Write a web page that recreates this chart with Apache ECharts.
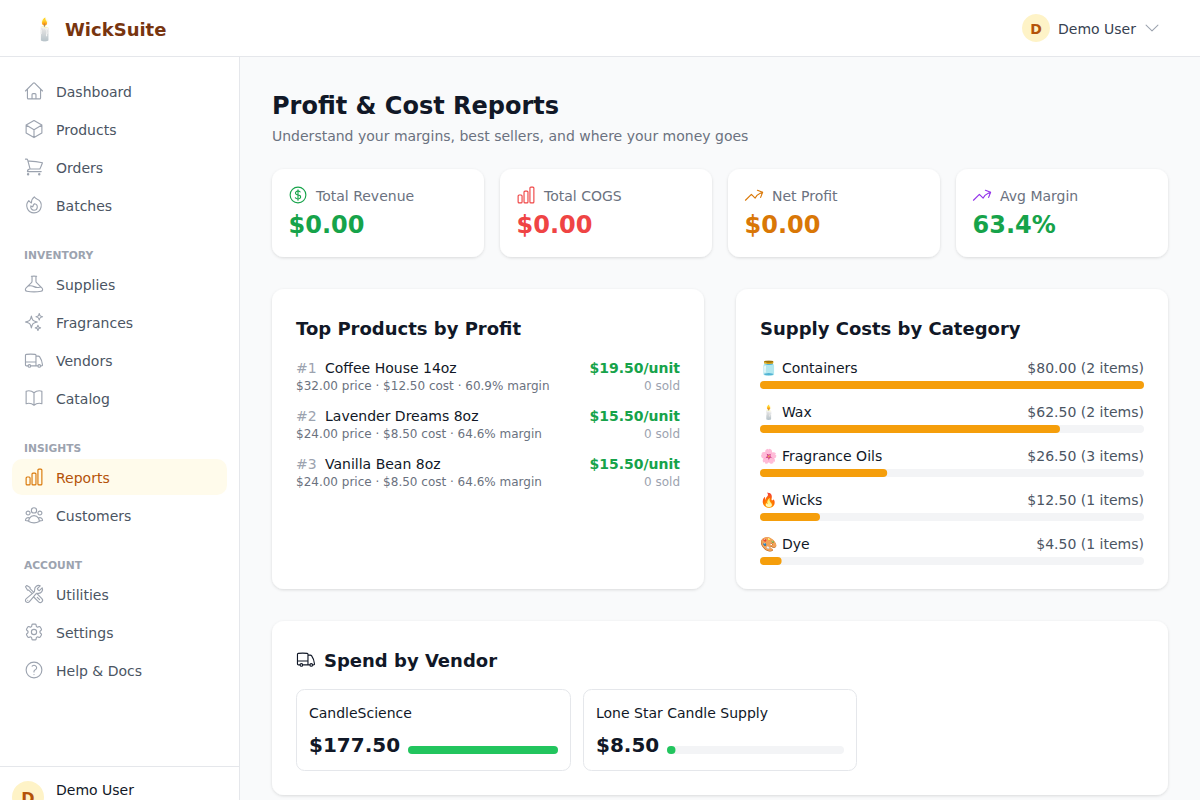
<!DOCTYPE html>
<html>
<head>
<meta charset="utf-8">
<title>WickSuite</title>
<script src="https://cdn.jsdelivr.net/npm/echarts@6/dist/echarts.min.js"></script>
<style>
    html, body { margin: 0; padding: 0; background: #f9fafb; }
    #chart { width: 1200px; height: 800px; }
</style>
</head>
<body>
<div id="chart"></div>
<script>
// supply costs panel
var costCategories = ['🫙 Containers', '🕯️ Wax', '🌸 Fragrance Oils', '🔥 Wicks', '🎨 Dye'];
var costValues = [80, 62.5, 26.5, 12.5, 4.5];
var costItems = [2, 2, 3, 1, 1];

// vendors panel
var vendorNames = ['CandleScience', 'Lone Star Candle Supply'];
var vendorSpend = [177.5, 8.5];

// top products panel
var productNames = ['Coffee House 14oz', 'Lavender Dreams 8oz', 'Vanilla Bean 8oz'];
var productPrice = [32, 24, 24];
var productCost = [12.5, 8.5, 8.5];
var productMargin = [60.9, 64.6, 64.6];
var productProfit = [19.5, 15.5, 15.5];
var productSold = [0, 0, 0];

// stat cards
var statLabels = ['Total Revenue', 'Total COGS', 'Net Profit', 'Avg Margin'];
var statValues = ['$0.00', '$0.00', '$0.00', '63.4%'];

// sidebar
var navMain = ['Dashboard', 'Products', 'Orders', 'Batches'];
var navInventory = ['Supplies', 'Fragrances', 'Vendors', 'Catalog'];
var navInsights = ['Reports', 'Customers'];
var navAccount = ['Utilities', 'Settings', 'Help & Docs'];

var FONT = '"DejaVu Sans", "Noto Color Emoji", sans-serif';

var ICONS = {
    home: 'm2.25 12 8.954-8.955c.44-.439 1.152-.439 1.591 0L21.75 12M4.5 9.75v10.125c0 .621.504 1.125 1.125 1.125H9.75v-4.875c0-.621.504-1.125 1.125-1.125h2.25c.621 0 1.125.504 1.125 1.125V21h4.125c.621 0 1.125-.504 1.125-1.125V9.75M8.25 21h8.25',
    cube: 'm21 7.5-9-5.25L3 7.5m18 0-9 5.25m9-5.25v9l-9 5.25M3 7.5l9 5.25M3 7.5v9l9 5.25m0-9v9',
    cart: 'M2.25 3h1.386c.51 0 .955.343 1.087.835l.383 1.437M7.5 14.25a3 3 0 0 0-3 3h15.75m-12.75-3h11.218c1.121-2.3 2.1-4.684 2.924-7.138a60.114 60.114 0 0 0-16.536-1.84M7.5 14.25 5.106 5.272M6 20.25a.75.75 0 1 1-1.5 0 .75.75 0 0 1 1.5 0Zm12.75 0a.75.75 0 1 1-1.5 0 .75.75 0 0 1 1.5 0Z',
    fire: 'M15.362 5.214A8.252 8.252 0 0 1 12 21 8.25 8.25 0 0 1 6.038 7.047 8.287 8.287 0 0 0 9 9.601a8.983 8.983 0 0 1 3.361-6.867 8.21 8.21 0 0 0 3 2.48Z M12 18a3.75 3.75 0 0 0 .495-7.468 5.99 5.99 0 0 0-1.925 3.547 5.975 5.975 0 0 1-2.133-1.001A3.75 3.75 0 0 0 12 18Z',
    beaker: 'M9.75 3.104v5.714a2.25 2.25 0 0 1-.659 1.591L5 14.5M9.75 3.104c-.251.023-.501.05-.75.082m.75-.082a24.301 24.301 0 0 1 4.5 0m0 0v5.714c0 .597.237 1.17.659 1.591L19.8 15.3M14.25 3.104c.251.023.501.05.75.082M19.8 15.3l-1.57.393A9.065 9.065 0 0 1 12 15a9.065 9.065 0 0 0-6.23-.693L5 14.5m14.8.8 1.402 1.402c1.232 1.232.65 3.318-1.067 3.611A48.309 48.309 0 0 1 12 21c-2.773 0-5.491-.235-8.135-.687-1.718-.293-2.3-2.379-1.067-3.61L5 14.5',
    sparkles: 'M9.813 15.904 9 18.75l-.813-2.846a4.5 4.5 0 0 0-3.09-3.09L2.25 12l2.846-.813a4.5 4.5 0 0 0 3.09-3.09L9 5.25l.813 2.846a4.5 4.5 0 0 0 3.09 3.09L15.75 12l-2.846.813a4.5 4.5 0 0 0-3.09 3.09ZM18.259 8.715 18 9.75l-.259-1.035a3.375 3.375 0 0 0-2.455-2.456L14.25 6l1.036-.259a3.375 3.375 0 0 0 2.455-2.456L18 2.25l.259 1.035a3.375 3.375 0 0 0 2.456 2.456L21.75 6l-1.035.259a3.375 3.375 0 0 0-2.456 2.456ZM16.894 20.567 16.5 21.75l-.394-1.183a2.25 2.25 0 0 0-1.423-1.423L13.5 18.75l1.183-.394a2.25 2.25 0 0 0 1.423-1.423l.394-1.183.394 1.183a2.25 2.25 0 0 0 1.423 1.423l1.183.394-1.183.394a2.25 2.25 0 0 0-1.423 1.423Z',
    truck: 'M8.25 18.75a1.5 1.5 0 0 1-3 0m3 0a1.5 1.5 0 0 0-3 0m3 0h6m-9 0H3.375a1.125 1.125 0 0 1-1.125-1.125V14.25m17.25 4.5a1.5 1.5 0 0 1-3 0m3 0a1.5 1.5 0 0 0-3 0m3 0h1.125c.621 0 1.129-.504 1.09-1.124a17.902 17.902 0 0 0-3.213-9.193 2.056 2.056 0 0 0-1.58-.86H14.25M16.5 18.75h-2.25m0-11.177v-.958c0-.568-.422-1.048-.987-1.106a48.554 48.554 0 0 0-10.026 0 1.106 1.106 0 0 0-.987 1.106v7.635m12-6.677v6.677m0 4.5v-4.5m0 0h-12',
    book: 'M12 6.042A8.967 8.967 0 0 0 6 3.75c-1.052 0-2.062.18-3 .512v14.25A8.987 8.987 0 0 1 6 18c2.305 0 4.408.867 6 2.292m0-14.25a8.966 8.966 0 0 1 6-2.292c1.052 0 2.062.18 3 .512v14.25A8.987 8.987 0 0 0 18 18a8.967 8.967 0 0 0-6 2.292m0-14.25v14.25',
    bars: 'M3 13.125C3 12.504 3.504 12 4.125 12h2.25c.621 0 1.125.504 1.125 1.125v6.75C7.5 20.496 6.996 21 6.375 21h-2.25A1.125 1.125 0 0 1 3 19.875v-6.75ZM9.75 8.625c0-.621.504-1.125 1.125-1.125h2.25c.621 0 1.125.504 1.125 1.125v11.25c0 .621-.504 1.125-1.125 1.125h-2.25a1.125 1.125 0 0 1-1.125-1.125V8.625ZM16.5 4.125c0-.621.504-1.125 1.125-1.125h2.25C20.496 3 21 3.504 21 4.125v15.75c0 .621-.504 1.125-1.125 1.125h-2.25a1.125 1.125 0 0 1-1.125-1.125V4.125Z',
    users: 'M18 18.72a9.094 9.094 0 0 0 3.741-.479 3 3 0 0 0-4.682-2.72m.94 3.198.001.031c0 .225-.012.447-.037.666A11.944 11.944 0 0 1 12 21c-2.17 0-4.207-.576-5.963-1.584A6.062 6.062 0 0 1 6 18.719m12 0a5.971 5.971 0 0 0-.941-3.197m0 0A5.995 5.995 0 0 0 12 12.75a5.995 5.995 0 0 0-5.058 2.772m0 0a3 3 0 0 0-4.681 2.72 8.986 8.986 0 0 0 3.74.477m.94-3.197a5.971 5.971 0 0 0-.94 3.197M15 6.75a3 3 0 1 1-6 0 3 3 0 0 1 6 0Zm6 3a2.25 2.25 0 1 1-4.5 0 2.25 2.25 0 0 1 4.5 0Zm-13.5 0a2.25 2.25 0 1 1-4.5 0 2.25 2.25 0 0 1 4.5 0Z',
    tools: 'M11.42 15.17 17.25 21A2.652 2.652 0 0 0 21 17.25l-5.877-5.877M11.42 15.17l2.496-3.03c.317-.384.74-.626 1.208-.766M11.42 15.17l-4.655 5.653a2.548 2.548 0 1 1-3.586-3.586l6.837-5.63m5.108-.233c.55-.164 1.163-.188 1.743-.14a4.5 4.5 0 0 0 4.486-6.336l-3.276 3.277a3.004 3.004 0 0 1-2.25-2.25l3.276-3.276a4.5 4.5 0 0 0-6.336 4.486c.091 1.076-.071 2.264-.904 2.95l-.102.085m-1.745 1.437L5.909 7.5H4.5L2.25 3.75l1.5-1.5L7.5 4.5v1.409l4.26 4.26m-1.745 1.437 1.745-1.437m6.615 8.206L15.75 15.75M4.867 19.125h.008v.008h-.008v-.008Z',
    cog: 'M9.594 3.94c.09-.542.56-.94 1.11-.94h2.593c.55 0 1.02.398 1.11.94l.213 1.281c.063.374.313.686.645.87.074.04.147.083.22.127.325.196.72.257 1.075.124l1.217-.456a1.125 1.125 0 0 1 1.37.49l1.296 2.247a1.125 1.125 0 0 1-.26 1.431l-1.003.827c-.293.241-.438.613-.43.992a7.723 7.723 0 0 1 0 .255c-.008.378.137.75.43.991l1.004.827c.424.35.534.955.26 1.43l-1.298 2.247a1.125 1.125 0 0 1-1.369.491l-1.217-.456c-.355-.133-.75-.072-1.076.124a6.47 6.47 0 0 1-.22.128c-.331.183-.581.495-.644.869l-.213 1.281c-.09.543-.56.94-1.11.94h-2.594c-.55 0-1.019-.398-1.11-.94l-.213-1.281c-.062-.374-.312-.686-.644-.87a6.52 6.52 0 0 1-.22-.127c-.325-.196-.72-.257-1.076-.124l-1.217.456a1.125 1.125 0 0 1-1.369-.49l-1.297-2.247a1.125 1.125 0 0 1 .26-1.431l1.004-.827c.292-.24.437-.613.43-.991a6.932 6.932 0 0 1 0-.255c.007-.38-.138-.751-.43-.992l-1.004-.827a1.125 1.125 0 0 1-.26-1.43l1.297-2.247a1.125 1.125 0 0 1 1.37-.491l1.216.456c.356.133.751.072 1.076-.124.072-.044.146-.086.22-.128.332-.183.582-.495.644-.869l.214-1.28Z M15 12a3 3 0 1 1-6 0 3 3 0 0 1 6 0Z',
    help: 'M9.879 7.519c1.171-1.025 3.071-1.025 4.242 0 1.172 1.025 1.172 2.687 0 3.712-.203.179-.43.326-.67.442-.745.361-1.45.999-1.45 1.827v.75M21 12a9 9 0 1 1-18 0 9 9 0 0 1 18 0Zm-9 5.25h.008v.008H12v-.008Z',
    dollar: 'M12 6v12m-3-2.818.879.659c1.171.879 3.07.879 4.242 0 1.172-.879 1.172-2.303 0-3.182C13.536 12.219 12.768 12 12 12c-.725 0-1.45-.22-2.003-.659-1.106-.879-1.106-2.303 0-3.182s2.9-.879 4.006 0l.415.33M21 12a9 9 0 1 1-18 0 9 9 0 0 1 18 0Z',
    trend: 'M2.25 18 9 11.25l4.306 4.306a11.95 11.95 0 0 1 5.814-5.518l2.74-1.22m0 0-5.94-2.281m5.94 2.28-2.28 5.941',
    chevron: 'm19.5 8.25-7.5 7.5-7.5-7.5'
};
Object.keys(ICONS).forEach(function (name) {
    echarts.graphic.registerShape('icon_' + name, echarts.graphic.extendPath(ICONS[name]));
});

var els = [];

function box(x, y, w, h, fill, r, extra) {
    var style = {fill: fill};
    if (extra) {
        for (var k in extra) style[k] = extra[k];
    }
    els.push({type: 'rect', shape: {x: x, y: y, width: w, height: h, r: r || 0}, style: style, silent: true});
}

function card(x, y, w, h) {
    box(x, y, w, h, '#fff', 12, {shadowBlur: 3, shadowOffsetY: 1, shadowColor: 'rgba(0,0,0,0.13)'});
}

// y is the middle of the line box, the +1 puts the glyphs where the page has them
function txt(x, y, text, size, color, bold, align) {
    els.push({
        type: 'text', x: x, y: y + 1, silent: true,
        style: {
            text: text, fill: color, align: align || 'left', verticalAlign: 'middle',
            font: (bold ? 'bold ' : '') + size + 'px ' + FONT
        }
    });
}

function icon(name, cx, cy, size, color) {
    var s = size / 24;
    els.push({
        type: 'icon_' + name, x: cx - size / 2, y: cy - size / 2, scaleX: s, scaleY: s, silent: true,
        style: {fill: 'none', stroke: color, lineWidth: 1.3, lineCap: 'round', lineJoin: 'round'}
    });
}

function circle(cx, cy, r, fill) {
    els.push({type: 'circle', shape: {cx: cx, cy: cy, r: r}, style: {fill: fill}, silent: true});
}

function money(v) {
    return '$' + v.toFixed(2);
}

// frame
box(0, 0, 240, 800, '#fff');
box(239, 57, 1, 743, '#e5e7eb');
box(0, 0, 1200, 56, '#fff');
box(0, 56, 1200, 1, '#e5e7eb');
box(0, 766, 239, 1, '#e5e7eb');

// header
txt(31, 28, '🕯️', 22, '#000');
txt(65, 28, 'WickSuite', 18, '#78350f', true);
circle(1036, 28, 14, '#fef3c7');
txt(1036, 28, 'D', 14, '#b45309', true, 'center');
txt(1058, 28, 'Demo User', 14, '#374151');
icon('chevron', 1152, 28, 19, '#9ca3af');

// sidebar
function navGroup(labels, icons, y) {
    labels.forEach(function (label, i) {
        var cy = y + i * 38;
        var active = label === 'Reports';
        if (active) box(12, cy - 18, 215, 36, '#fffbeb', 10);
        icon(icons[i], 34, cy, 21, active ? '#d97706' : '#9ca3af');
        txt(56, cy, label, 14, active ? '#b45309' : '#4b5563');
    });
}
navGroup(navMain, ['home', 'cube', 'cart', 'fire'], 91);
txt(24, 254, 'INVENTORY', 10.7, '#9ca3af', true);
navGroup(navInventory, ['beaker', 'sparkles', 'truck', 'book'], 284);
txt(24, 447, 'INSIGHTS', 10.7, '#9ca3af', true);
navGroup(navInsights, ['bars', 'users'], 477);
txt(24, 564, 'ACCOUNT', 10.7, '#9ca3af', true);
navGroup(navAccount, ['tools', 'cog', 'help'], 594);
circle(28, 797, 16, '#fef3c7');
txt(28, 797, 'D', 16, '#b45309', true, 'center');
txt(56, 789, 'Demo User', 14, '#111827');

// page heading
txt(272, 105, 'Profit & Cost Reports', 24, '#111827', true);
txt(272, 135, 'Understand your margins, best sellers, and where your money goes', 14, '#6b7280');

// stat cards
var statIcons = ['dollar', 'bars', 'trend', 'trend'];
var statIconColors = ['#16a34a', '#ef4444', '#d97706', '#9333ea'];
var statColors = ['#16a34a', '#ef4444', '#d97706', '#16a34a'];
statLabels.forEach(function (label, i) {
    var x = 272 + i * 228;
    card(x, 169, 212, 88);
    icon(statIcons[i], x + 26, 195, 21, statIconColors[i]);
    txt(x + 44, 195, label, 14, '#6b7280');
    txt(x + 16.5, 224, statValues[i], 24, statColors[i], true);
});

// top products
card(272, 289, 432, 300);
txt(296, 327, 'Top Products by Profit', 18, '#111827', true);
productNames.forEach(function (name, i) {
    var y = 367 + i * 48;
    txt(296, y, '#' + (i + 1), 14, '#9ca3af');
    txt(325, y, name, 14, '#111827');
    txt(296, y + 18, money(productPrice[i]) + ' price · ' + money(productCost[i]) + ' cost · ' + productMargin[i].toFixed(1) + '% margin', 12, '#6b7280');
    txt(680, y, money(productProfit[i]) + '/unit', 14, '#16a34a', true, 'right');
    txt(680, y + 18, productSold[i] + ' sold', 12, '#9ca3af', false, 'right');
});

// supply costs
card(736, 289, 432, 300);
txt(760, 327, 'Supply Costs by Category', 18, '#111827', true);
costCategories.forEach(function (name, i) {
    var y = 367 + i * 44;
    txt(760, y, name, 14, '#111827');
    txt(1144, y, money(costValues[i]) + ' (' + costItems[i] + ' items)', 14, '#4b5563', false, 'right');
});

// vendors
card(272, 621, 896, 174);
icon('truck', 306, 659, 21, '#111827');
txt(324, 659, 'Spend by Vendor', 18, '#111827', true);
var vendorCardX = [296, 583];
var vendorCardW = [275, 274];
vendorNames.forEach(function (name, i) {
    var x = vendorCardX[i];
    box(x + 0.5, 689.5, vendorCardW[i] - 1, 81, '#fff', 8, {stroke: '#e5e7eb', lineWidth: 1});
    txt(x + 13, 712, name, 14, '#111827');
    txt(x + 13, 744, money(vendorSpend[i]), 20, '#111827', true);
});

var TRACK = '#f3f4f6';

function progressSeries(data, color, axisIndex) {
    return {
        type: 'bar',
        xAxisIndex: axisIndex,
        yAxisIndex: axisIndex,
        data: data,
        barWidth: 8,
        silent: true,
        itemStyle: {color: color, borderRadius: 4},
        showBackground: true,
        backgroundStyle: {color: TRACK, borderRadius: 4}
    };
}

function hiddenX(max) {
    return {type: 'value', min: 0, max: max, show: false};
}

function hiddenY(cats, index) {
    return {type: 'category', data: cats, inverse: true, show: false, gridIndex: index};
}

var vendorMax = Math.max.apply(null, vendorSpend);
var xCost = hiddenX(Math.max.apply(null, costValues));
var xVendorA = hiddenX(vendorMax);
var xVendorB = hiddenX(vendorMax);
xVendorA.gridIndex = 1;
xVendorB.gridIndex = 2;

var myChart = echarts.init(document.getElementById('chart'), null, {renderer: 'svg'});

var option = {
    animation: false,
    backgroundColor: '#f9fafb',
    graphic: {elements: els},
    grid: [
        {left: 760, top: 363, width: 384, height: 220},
        {left: 408, top: 740, width: 150, height: 20},
        {left: 667, top: 740, width: 177, height: 20}
    ],
    xAxis: [xCost, xVendorA, xVendorB],
    yAxis: [
        hiddenY(costCategories, 0),
        hiddenY([vendorNames[0]], 1),
        hiddenY([vendorNames[1]], 2)
    ],
    series: [
        progressSeries(costValues, '#f59e0b', 0),
        progressSeries([vendorSpend[0]], '#22c55e', 1),
        progressSeries([vendorSpend[1]], '#22c55e', 2)
    ]
};

myChart.setOption(option);
</script>
</body>
</html>
